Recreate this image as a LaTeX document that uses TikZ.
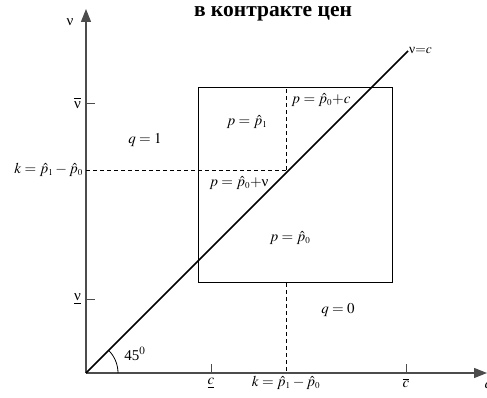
\documentclass[tikz,border=0pt]{standalone}
\usepackage{mathptmx}
\usepackage{fontspec}
\setmainfont{Liberation Serif}
\usetikzlibrary{arrows.meta,positioning}
\newcommand{\unu}{\mbox{ν}}
\tikzset{
  axisline/.style={draw=black!70,line width=1.1pt,-{Triangle[length=13pt,width=10pt]}},
  guideline/.style={dashed,line width=0.7pt,dash pattern=on 4pt off 3pt},
  ticksmall/.style={draw=black!70,line width=0.9pt},
  lbl/.style={inner sep=1pt,font=\fontsize{15}{17}\selectfont},
  dot/.style={inner sep=0pt,minimum size=0pt}
}
\begin{document}
\begin{tikzpicture}[x=1pt,y=1pt]
  \useasboundingbox (-86,-24) rectangle (401,373);
  % axes
  \coordinate (O) at (0,0);
  \coordinate (xend) at (401,0);
  \coordinate (yend) at (0,364);
  \draw[axisline] (O) -- (xend);
  \draw[axisline] (O) -- (yend);
  \node[lbl] (vaxis) at (-16,351) {$\unu$};
  \node[lbl] (caxis) at (402,-12) {$c$};

  % title
  \node[font=\bfseries\fontsize{21.5}{23}\selectfont,inner sep=0pt] (title) at (187,359) {в контракте цен};

  % box of types
  \node[draw,line width=0.8pt,inner sep=0pt,anchor=south west,
        minimum width=194pt,minimum height=195pt] (box) at (112,90) {};

  % guides at k
  \coordinate (kx) at (200,0);
  \coordinate (ky) at (0,203);
  \coordinate (kk) at (200,203);
  \draw[guideline] (ky) -- (kk);
  \draw[guideline] (kk) -- (kk |- box.north);
  \draw[guideline] (kk |- box.south) -- (kx);

  % diagonal
  \coordinate (dend) at (322,322);
  \draw[line width=1.6pt] (O) -- (dend);
  \node[lbl,anchor=west,font=\fontsize{13.5}{15}\selectfont] (diag) at ([yshift=1pt]dend) {$\unu{=}c$};

  % ticks
  \coordinate (vhi) at (0,270);
  \coordinate (vlo) at (0,74);
  \coordinate (clo) at (125,0);
  \coordinate (chi) at (320,0);
  \draw[ticksmall] (vhi) -- ++(9,0);
  \draw[ticksmall] (vlo) -- ++(9,0);
  \draw[ticksmall] (clo) -- ++(0,9);
  \draw[ticksmall] (chi) -- ++(0,9);
  \node[lbl,left=4pt of vhi] (vhil) {$\overline{\rule{0pt}{8pt}\unu}$};
  \node[lbl,left=4pt of vlo] (vlol) {$\underline{\unu}$};
  \node[lbl,left=2pt of ky] (kyl) {$k=\hat{p}_{\scriptscriptstyle 1}-\hat{p}_{\scriptscriptstyle 0}$};
  \node[lbl,below=4pt of clo] (clol) {$\underline{c}$};
  \node[lbl,below=4pt of chi] (chil) {$\overline{c}$};
  \node[lbl,below=2pt of kx] (kxl) {$k=\hat{p}_{\scriptscriptstyle 1}-\hat{p}_{\scriptscriptstyle 0}$};

  % angle
  \draw[line width=0.8pt] (32,0) arc[start angle=0,end angle=45,radius=32];
  \node[lbl] (ang) at (49,19) {45$^{0}$};

  % regions
  \node[lbl] (q1) at (59,233) {$q=1$};
  \node[lbl] (q0) at (252,63) {$q=0$};
  \node[lbl] (pone) at (161,251) {$p=\hat{p}_{\scriptscriptstyle 1}$};
  \node[lbl] (pc) at (235,273) {$p=\hat{p}_{\scriptscriptstyle 0}{+}c$};
  \node[lbl] (pv) at (153,190) {$p=\hat{p}_{\scriptscriptstyle 0}{+}\unu$};
  \node[lbl] (pzero) at (204,135) {$p=\hat{p}_{\scriptscriptstyle 0}$};
\end{tikzpicture}
\end{document}
